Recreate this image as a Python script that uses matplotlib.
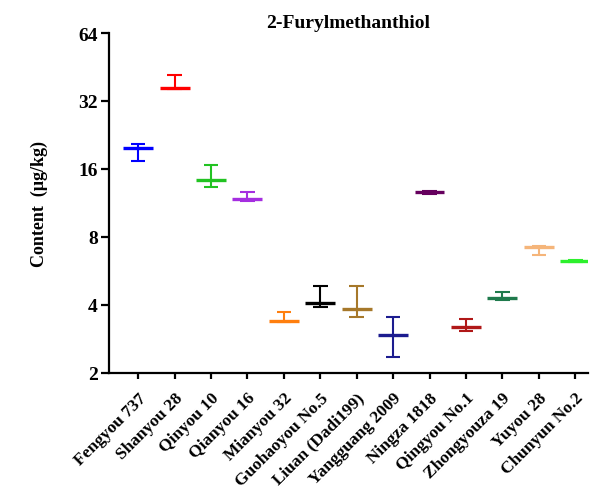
import matplotlib
matplotlib.use('Agg')
import matplotlib.pyplot as plt
import numpy as np

cultivars = [
    "Fengyou 737", "Shanyou 28", "Qinyou 10", "Qianyou 16", "Mianyou 32",
    "Guohaoyou No.5", "Liuan (Dadi199)", "Yangguang 2009", "Ningza 1818",
    "Qingyou No.1", "Zhongyouza 19", "Yuyou 28", "Chunyun No.2",
]
means = [19.8, 36.7, 14.3, 11.8, 3.39, 4.08, 3.84, 2.95, 12.6, 3.19, 4.28, 7.25, 6.25]
lower = [17.4, 36.3, 13.3, 11.6, 3.36, 3.93, 3.53, 2.35, 12.4, 3.06, 4.20, 6.66, 6.20]
upper = [20.7, 41.7, 16.7, 12.6, 3.71, 4.84, 4.84, 3.55, 12.8, 3.47, 4.58, 7.30, 6.30]

colors = [
    "#0000ff", "#ff0000", "#22c322", "#a52ee0", "#ff7f0e", "#000000",
    "#a6782a", "#1c1c8f", "#66005e", "#b01818", "#1f7a4c", "#f5b57a", "#2df02d",
]

plt.rcParams['font.family'] = ['Liberation Serif', 'DejaVu Serif']
plt.rcParams['font.weight'] = 'bold'

fig = plt.figure(figsize=(5.9, 4.89), dpi=100)
ax = fig.add_axes([109 / 590, 1 - 374 / 489, (588 - 109) / 590, (374 - 34) / 489])

x = np.arange(len(cultivars))
for i in x:
    c = colors[i]
    ax.hlines(means[i], i - 0.41, i + 0.41, color=c, lw=2.4)
    ax.vlines(i, lower[i], upper[i], color=c, lw=1.5)
    ax.hlines([lower[i], upper[i]], i - 0.2, i + 0.2, color=c, lw=1.5)

ax.set_yscale('log', base=2)
ax.set_ylim(2, 64)
ax.set_yticks([2, 4, 8, 16, 32, 64])
ax.set_yticklabels(['2', '4', '8', '16', '32', '64'], fontsize=14, fontweight='bold')
ax.minorticks_off()
ax.set_xlim(-0.8, 12.35)
ax.set_xticks(x)
ax.set_xticklabels(cultivars, rotation=45, ha='right', rotation_mode='anchor',
                   fontsize=12.5, fontweight='bold')

for s in ['top', 'right']:
    ax.spines[s].set_visible(False)
for s in ['left', 'bottom']:
    ax.spines[s].set_linewidth(1.6)
ax.tick_params(axis='y', width=1.6, length=6, pad=2)
ax.tick_params(axis='x', width=1.6, length=4, pad=8)

ax.set_ylabel('Content  (μg/kg)', fontsize=13, fontweight='bold', labelpad=22)
ax.set_title('2-Furylmethanthiol', fontsize=14, fontweight='bold', pad=4)

fig.savefig('out.png', dpi=100)
